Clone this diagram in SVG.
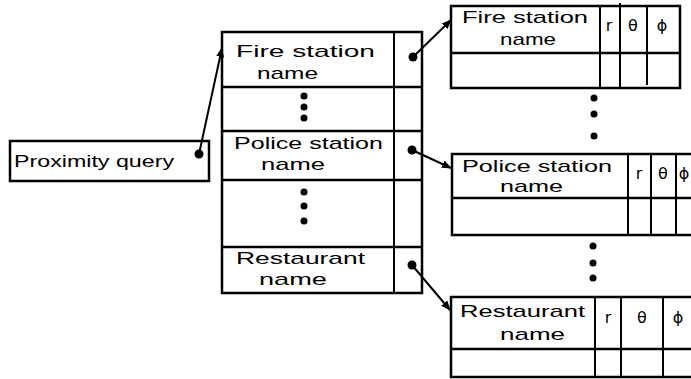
<svg xmlns="http://www.w3.org/2000/svg" width="691" height="379" viewBox="0 0 691 379">
<style>
.box{fill:none;stroke:#000;stroke-width:2.5}
.ln{stroke:#000;stroke-width:2;fill:none}
.t{font-family:"Liberation Sans",Arial,sans-serif;font-size:17px;fill:#000}
.g{font-family:"DejaVu Sans","Liberation Sans",sans-serif;font-size:16px;fill:#000;text-anchor:middle}
.dot{fill:#000}
.conn{stroke:#000;stroke-width:2;fill:none;marker-end:url(#ah)}
</style>
<defs>
<marker id="ah" viewBox="0 0 10 10" refX="9" refY="5" markerWidth="10" markerHeight="10" markerUnits="userSpaceOnUse" orient="auto">
<path d="M0,1 L10,5 L0,9 z" fill="#000"/>
</marker>
</defs>
<rect x="0" y="0" width="691" height="379" fill="#fff"/>

<g id="proximity">
<rect class="box" x="10" y="141" width="199" height="40"/>
<text class="t" x="14" y="167" textLength="160" lengthAdjust="spacingAndGlyphs">Proximity query</text>
<circle class="dot" cx="199" cy="154" r="4.5"/>
</g>

<g id="index">
<rect class="box" x="222" y="32" width="200" height="261"/>
<line class="ln" x1="394" y1="32" x2="394" y2="293"/>
<line class="box" x1="222" y1="87" x2="422" y2="87"/>
<line class="box" x1="222" y1="131" x2="422" y2="131"/>
<line class="box" x1="222" y1="180" x2="422" y2="180"/>
<line class="box" x1="222" y1="247" x2="422" y2="247"/>
<text class="t" x="236" y="57" textLength="139" lengthAdjust="spacingAndGlyphs">Fire station</text>
<text class="t" x="257" y="79" textLength="61" lengthAdjust="spacingAndGlyphs">name</text>
<circle class="dot" cx="304" cy="96" r="3.5"/>
<circle class="dot" cx="304" cy="107" r="3.5"/>
<circle class="dot" cx="304" cy="118" r="3.5"/>
<text class="t" x="234" y="149" textLength="149" lengthAdjust="spacingAndGlyphs">Police station</text>
<text class="t" x="261" y="170" textLength="64" lengthAdjust="spacingAndGlyphs">name</text>
<circle class="dot" cx="304" cy="192" r="3.5"/>
<circle class="dot" cx="304" cy="206" r="3.5"/>
<circle class="dot" cx="304" cy="221" r="3.5"/>
<text class="t" x="236" y="264" textLength="129" lengthAdjust="spacingAndGlyphs">Restaurant</text>
<text class="t" x="259" y="285" textLength="68" lengthAdjust="spacingAndGlyphs">name</text>
<circle class="dot" cx="413" cy="57" r="4.5"/>
<circle class="dot" cx="412" cy="150" r="4.5"/>
<circle class="dot" cx="412" cy="265" r="4.5"/>
</g>

<g id="fire-table">
<rect class="box" x="451" y="6" width="229" height="82"/>
<line class="box" x1="451" y1="53" x2="680" y2="53"/>
<line class="ln" x1="600" y1="6" x2="600" y2="88"/>
<line class="ln" x1="620" y1="3" x2="620" y2="88"/>
<line class="ln" x1="647" y1="6" x2="647" y2="85"/>
<text class="t" x="462" y="23" textLength="126" lengthAdjust="spacingAndGlyphs">Fire station</text>
<text class="t" x="500" y="45" textLength="56" lengthAdjust="spacingAndGlyphs">name</text>
<text class="g" x="609" y="31">r</text>
<text class="g" x="633" y="31">θ</text>
<text class="g" x="662" y="31">ϕ</text>
</g>

<g id="dots-1">
<circle class="dot" cx="594" cy="98" r="3.5"/>
<circle class="dot" cx="594" cy="114" r="3.5"/>
<circle class="dot" cx="594" cy="136" r="3.5"/>
</g>

<g id="police-table">
<polyline class="box" points="700,154 452,154 452,235 700,235"/>
<line class="box" x1="452" y1="198" x2="700" y2="198"/>
<line class="ln" x1="628" y1="154" x2="628" y2="235"/>
<line class="ln" x1="651" y1="154" x2="651" y2="235"/>
<line class="ln" x1="676" y1="154" x2="676" y2="235"/>
<text class="t" x="462" y="172" textLength="150" lengthAdjust="spacingAndGlyphs">Police station</text>
<text class="t" x="500" y="192" textLength="63" lengthAdjust="spacingAndGlyphs">name</text>
<text class="g" x="639" y="179">r</text>
<text class="g" x="663" y="179">θ</text>
<text class="g" x="684" y="179">ϕ</text>
</g>

<g id="dots-2">
<circle class="dot" cx="593" cy="246" r="3.5"/>
<circle class="dot" cx="593" cy="263" r="3.5"/>
<circle class="dot" cx="593" cy="278" r="3.5"/>
</g>

<g id="restaurant-table">
<polyline class="box" points="700,297 451,297 451,377 700,377"/>
<line class="box" x1="451" y1="349" x2="700" y2="349"/>
<line class="ln" x1="595" y1="297" x2="595" y2="377"/>
<line class="ln" x1="621" y1="297" x2="621" y2="377"/>
<line class="ln" x1="663" y1="297" x2="663" y2="377"/>
<text class="t" x="460" y="317" textLength="125" lengthAdjust="spacingAndGlyphs">Restaurant</text>
<text class="t" x="500" y="340" textLength="65" lengthAdjust="spacingAndGlyphs">name</text>
<text class="g" x="608" y="323">r</text>
<text class="g" x="642" y="323">θ</text>
<text class="g" x="678" y="323">ϕ</text>
</g>

<g id="connectors">
<line class="conn" x1="199" y1="154" x2="222" y2="48"/>
<line class="conn" x1="413" y1="57" x2="451" y2="20"/>
<line class="conn" x1="412" y1="150" x2="451" y2="168"/>
<line class="conn" x1="412" y1="265" x2="450" y2="310"/>
</g>
</svg>
